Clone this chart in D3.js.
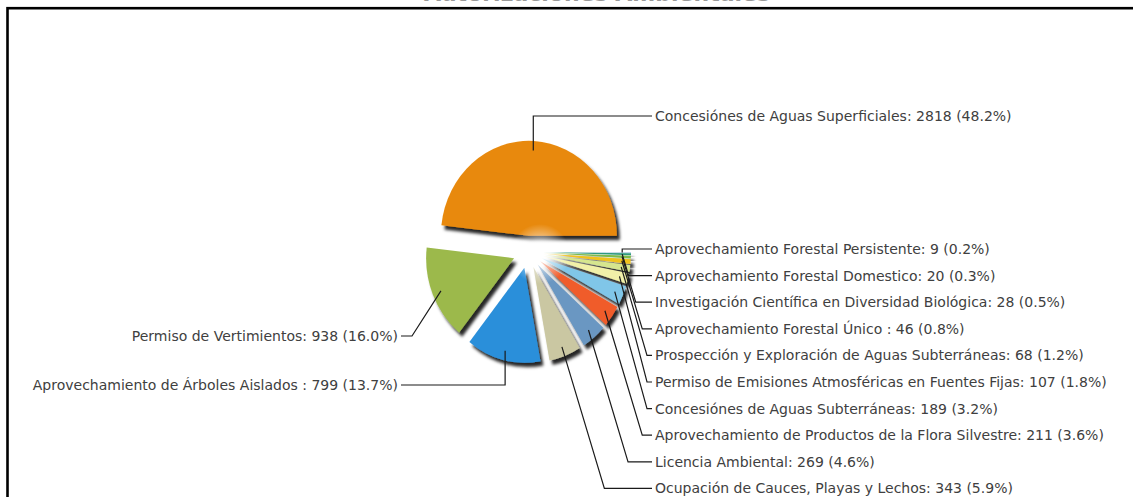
<!DOCTYPE html>
<html>
<head>
<meta charset="utf-8">
<script src="https://d3js.org/d3.v7.min.js"></script>
<style>
body { margin: 0; background: #fff; }
.lbl { font-family: "DejaVu Sans", Verdana, sans-serif; font-size: 14px; fill: #404040; }
.leader { fill: none; stroke: #1a1a1a; stroke-width: 1.2; }
</style>
</head>
<body>
<svg width="1133" height="497"></svg>
<script>

// pie order, clockwise from 3 o'clock
var categories = [
  "Aprovechamiento Forestal Persistente",
  "Aprovechamiento Forestal Domestico",
  "Investigación Científica en Diversidad Biológica",
  "Aprovechamiento Forestal Único ",
  "Prospección y Exploración de Aguas Subterráneas",
  "Permiso de Emisiones Atmosféricas en Fuentes Fijas",
  "Concesiónes de Aguas Subterráneas",
  "Aprovechamiento de Productos de la Flora Silvestre",
  "Licencia Ambiental",
  "Ocupación de Cauces, Playas y Lechos",
  "Aprovechamiento de Árboles Aislados ",
  "Permiso de Vertimientos",
  "Concesiónes de Aguas Superficiales"
];
var values = [9, 20, 28, 46, 68, 107, 189, 211, 269, 343, 799, 938, 2818];
var colors = ["#bcd3e6", "#2f9a7e", "#7dbb4a", "#f0c21c", "#d6e68e", "#f1f0a8",
              "#80c6e8", "#f05b2b", "#6b97c2", "#cac7a2", "#2b8fda", "#9cb94c", "#e8890b"];
var title = "Autorizaciones Ambientales";

var svg = d3.select("svg"),
    width = +svg.attr("width"),
    height = +svg.attr("height");

var cx = 528, cy = 252, radius = 88, explode = 15, sy = 1.08;
var total = d3.sum(values);

var defs = svg.append("defs");
var shadow = defs.append("filter").attr("id", "shadow")
    .attr("x", "-30%").attr("y", "-30%").attr("width", "160%").attr("height", "160%");
shadow.append("feDropShadow")
    .attr("dx", 3).attr("dy", 4).attr("stdDeviation", 1.6)
    .attr("flood-color", "#000").attr("flood-opacity", 0.85);

var glow = defs.append("radialGradient").attr("id", "glow");
glow.append("stop").attr("offset", "0%").attr("stop-color", "#fff").attr("stop-opacity", 1);
glow.append("stop").attr("offset", "45%").attr("stop-color", "#fff").attr("stop-opacity", 0.55);
glow.append("stop").attr("offset", "100%").attr("stop-color", "#fff").attr("stop-opacity", 0);

// frame and (cut off) title
svg.append("rect")
    .attr("x", 7.5).attr("y", 8.2)
    .attr("width", width + 50).attr("height", height + 50)
    .attr("fill", "none").attr("stroke", "#000").attr("stroke-width", 2.6);

svg.append("text")
    .attr("x", 597).attr("y", 1)
    .attr("text-anchor", "middle")
    .style("font-family", "DejaVu Sans, Verdana, sans-serif")
    .style("font-weight", "bold").style("font-size", "22px")
    .attr("fill", "#999")
    .text(title);

var pie = d3.pie().sort(null)
    .startAngle(Math.PI / 2).endAngle(Math.PI / 2 + 2 * Math.PI);
var arc = d3.arc().innerRadius(0).outerRadius(radius);

var arcs = pie(values);
arcs.forEach(function(d) {
  var mid = (d.startAngle + d.endAngle) / 2;
  d.dir = [Math.sin(mid), -Math.cos(mid) * sy];
  d.apex = [cx + explode * d.dir[0], cy + explode * d.dir[1]];
  d.anchor = [d.apex[0] + 0.9 * radius * d.dir[0], d.apex[1] + 0.9 * radius * d.dir[1]];
});

var slices = svg.append("g");
slices.selectAll("path")
  .data(arcs)
  .enter().append("path")
    .attr("transform", function(d) {
      return "translate(" + d.apex[0] + "," + d.apex[1] + ") scale(1," + sy + ")";
    })
    .attr("d", arc)
    .attr("fill", function(d, i) { return colors[i]; })
    .attr("filter", "url(#shadow)");

svg.append("circle")
    .attr("cx", cx + 12).attr("cy", cy + 2).attr("r", 30)
    .attr("fill", "url(#glow)");

// label layout
var rightX = 655, leftX = 398;
var stackTop = 249, stackStep = 26.6;
function labelPos(i) {
  if (i < 10) return { x: rightX, y: stackTop + i * stackStep, side: "right" };
  if (i === 10) return { x: leftX, y: 385, side: "left" };
  if (i === 11) return { x: leftX, y: 336, side: "left" };
  return { x: rightX, y: 116, side: "right" };
}

var line = d3.line();
var labels = svg.append("g");

arcs.forEach(function(d, i) {
  var p = labelPos(i), a = d.anchor, pts;
  var dy = p.y - a[1];
  var vertical = Math.abs(d.dir[1]) > Math.abs(d.dir[0]) * 2;
  if (p.side === "right") {
    if (vertical && dy < 0) {
      pts = [a, [a[0], p.y], [p.x - 3, p.y]];
    } else {
      var ex = Math.min(a[0] + 0.3 * Math.max(dy, 0), p.x - 8);
      pts = [a, [ex, p.y], [p.x - 3, p.y]];
    }
  } else {
    pts = vertical ? [a, [a[0], p.y], [p.x + 3, p.y]] : [a, [p.x + 14, p.y], [p.x + 3, p.y]];
  }
  labels.append("path").attr("class", "leader").attr("d", line(pts));
  labels.append("text")
      .attr("class", "lbl")
      .attr("x", p.x).attr("y", p.y + 5)
      .attr("text-anchor", p.side === "right" ? "start" : "end")
      .text(categories[i] + ": " + values[i] + " (" + (values[i] / total * 100).toFixed(1) + "%)");
});

</script>
</body>
</html>
